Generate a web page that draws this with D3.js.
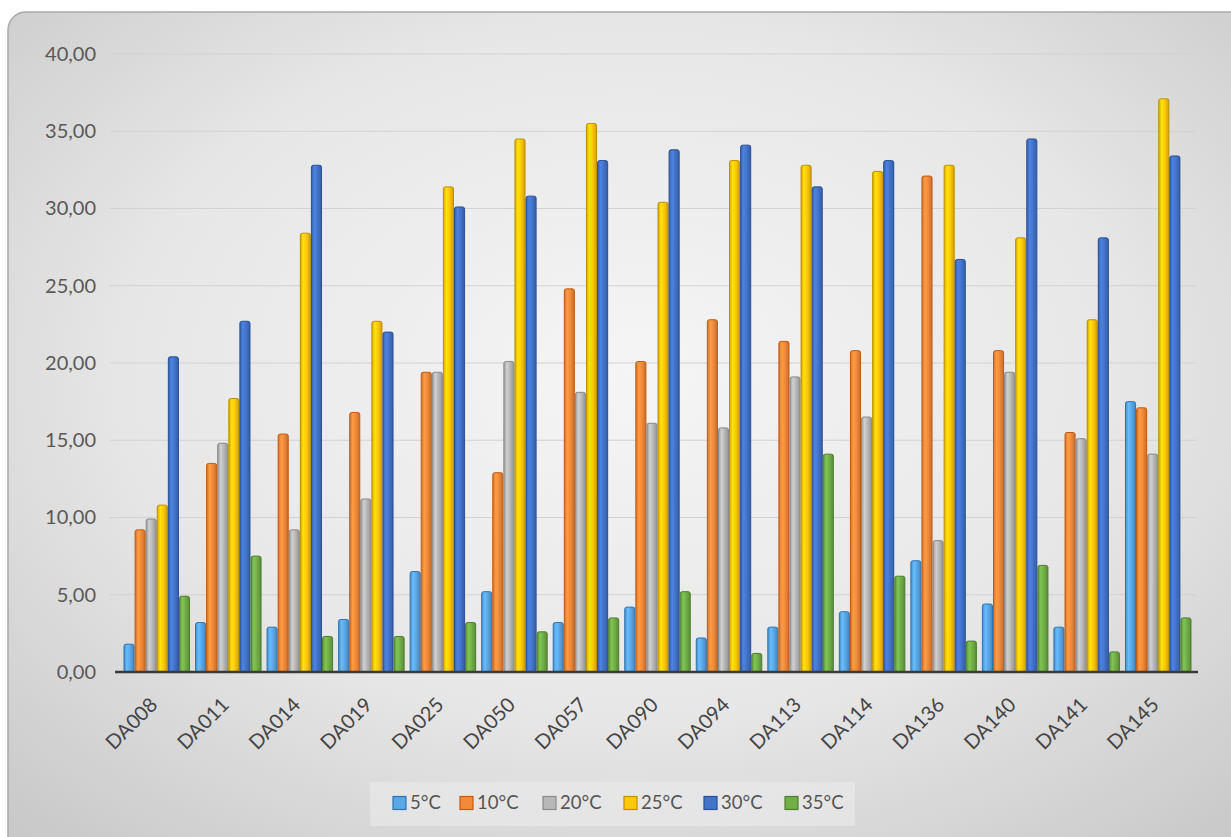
<!DOCTYPE html>
<html>
<head>
<meta charset="utf-8">
<script src="https://cdn.jsdelivr.net/npm/d3@7"></script>
<style>
  html, body { margin: 0; padding: 0; background: #ffffff; }
  svg { display: block; }
  text { font-family: Lato, "Open Sans", "Liberation Sans", sans-serif; }
</style>
</head>
<body>
<svg id="chart" width="1231" height="837"></svg>
<script>
// Strains and temperature series
const categories = ["DA008","DA011","DA014","DA019","DA025","DA050","DA057","DA090","DA094","DA113","DA114","DA136","DA140","DA141","DA145"];
const seriesNames = ["5°C","10°C","20°C","25°C","30°C","35°C"];

const t5  = [1.8, 3.2, 2.9, 3.4, 6.5, 5.2, 3.2, 4.2, 2.2, 2.9, 3.9, 7.2, 4.4, 2.9, 17.5];
const t10 = [9.2, 13.5, 15.4, 16.8, 19.4, 12.9, 24.8, 20.1, 22.8, 21.4, 20.8, 32.1, 20.8, 15.5, 17.1];
const t20 = [9.9, 14.8, 9.2, 11.2, 19.4, 20.1, 18.1, 16.1, 15.8, 19.1, 16.5, 8.5, 19.4, 15.1, 14.1];
const t25 = [10.8, 17.7, 28.4, 22.7, 31.4, 34.5, 35.5, 30.4, 33.1, 32.8, 32.4, 32.8, 28.1, 22.8, 37.1];
const t30 = [20.4, 22.7, 32.8, 22.0, 30.1, 30.8, 33.1, 33.8, 34.1, 31.4, 33.1, 26.7, 34.5, 28.1, 33.4];
const t35 = [4.9, 7.5, 2.3, 2.3, 3.2, 2.6, 3.5, 5.2, 1.2, 14.1, 6.2, 2.0, 6.9, 1.3, 3.5];

const yTicks = [0, 5, 10, 15, 20, 25, 30, 35, 40];

const seriesValues = [t5, t10, t20, t25, t30, t35];
const fills   = ["#5aa7e6", "#f28a3a", "#b8b8b8", "#ffc80a", "#4374c9", "#71ae48"];
const strokes = ["#2e75b6", "#c55a11", "#8a8a8a", "#bf9000", "#2a4f95", "#4f7d2f"];

const svg = d3.select("#chart");
const defs = svg.append("defs");

// Panel background: soft radial shading
const bg = defs.append("radialGradient").attr("id", "bgGrad")
  .attr("cx", "50%").attr("cy", "42%").attr("r", "72%");
bg.append("stop").attr("offset", "0%").attr("stop-color", "#f5f5f5");
bg.append("stop").attr("offset", "55%").attr("stop-color", "#e7e7e7");
bg.append("stop").attr("offset", "100%").attr("stop-color", "#c9c9c9");

svg.append("rect")
  .attr("x", 8).attr("y", 12)
  .attr("width", 1240).attr("height", 860)
  .attr("rx", 18).attr("ry", 18)
  .attr("fill", "url(#bgGrad)")
  .attr("stroke", "#a9a9a9").attr("stroke-width", 1.5);

// Cylinder-like shading for each series
seriesNames.forEach((s, i) => {
  const base = d3.color(fills[i]);
  const g = defs.append("linearGradient").attr("id", "bar" + i)
    .attr("x1", "0%").attr("x2", "100%").attr("y1", "0%").attr("y2", "0%");
  g.append("stop").attr("offset", "0%").attr("stop-color", base.darker(0.5));
  g.append("stop").attr("offset", "30%").attr("stop-color", base.brighter(0.35));
  g.append("stop").attr("offset", "60%").attr("stop-color", base);
  g.append("stop").attr("offset", "100%").attr("stop-color", base.darker(0.6));
});

const x0 = d3.scaleBand().domain(categories).range([121, 1194])
  .paddingInner(0.07).paddingOuter(0.035);
const x1 = d3.scaleBand().domain(d3.range(seriesNames.length))
  .range([0, x0.bandwidth()]).padding(0);
const y = d3.scaleLinear().domain([0, 40]).range([672, 54]);

const fmt = v => d3.format(".2f")(v).replace(".", ",");

// Gridlines
svg.append("g").selectAll("line").data(yTicks.filter(d => d > 0)).join("line")
  .attr("x1", 110).attr("x2", 1196)
  .attr("y1", d => y(d)).attr("y2", d => y(d))
  .attr("stroke", "#d2d2d2").attr("stroke-width", 1.2);

// Y axis labels
const yAxis = d3.axisLeft(y).tickValues(yTicks).tickFormat(fmt).tickSize(0).tickPadding(0);
const gy = svg.append("g").attr("transform", "translate(96,0)").call(yAxis);
gy.select(".domain").remove();
gy.selectAll("text")
  .attr("font-family", "Lato, 'Open Sans', sans-serif")
  .attr("font-size", 20).attr("fill", "#595959");

// Bars
const groups = svg.append("g").selectAll("g").data(categories).join("g")
  .attr("transform", d => `translate(${x0(d)},0)`);

groups.selectAll("rect")
  .data((c, ci) => seriesValues.map((vals, si) => ({ si, v: vals[ci] })))
  .join("rect")
  .attr("x", d => x1(d.si) + 0.5)
  .attr("y", d => y(d.v))
  .attr("width", x1.bandwidth() - 1)
  .attr("height", d => y(0) - y(d.v))
  .attr("rx", 2)
  .attr("fill", d => `url(#bar${d.si})`)
  .attr("stroke", d => strokes[d.si])
  .attr("stroke-width", 1);

// X axis line and labels
const xAxis = d3.axisBottom(x0).tickSize(0).tickPadding(0);
const gx = svg.append("g").attr("transform", `translate(0,${y(0)})`).call(xAxis);
gx.select(".domain")
  .attr("d", `M115,0H1198`)
  .attr("stroke", "#3a3a3a").attr("stroke-width", 2.5);
gx.selectAll(".tick text")
  .attr("font-family", "Lato, 'Open Sans', sans-serif")
  .attr("font-size", 20).attr("fill", "#454545")
  .attr("text-anchor", "end")
  .attr("dy", 0).attr("y", 0)
  .attr("transform", "translate(2,34) rotate(-45)");

// Legend
const legend = svg.append("g");
legend.append("rect")
  .attr("x", 370).attr("y", 782).attr("width", 485).attr("height", 44)
  .attr("fill", "#ebebeb").attr("opacity", 0.6);

const legX = [393, 460, 543, 624, 704, 785];
const items = legend.selectAll("g").data(seriesNames).join("g")
  .attr("transform", (d, i) => `translate(${legX[i]},803)`);
items.append("rect")
  .attr("x", 0).attr("y", -6.5).attr("width", 13).attr("height", 13)
  .attr("fill", (d, i) => fills[i])
  .attr("stroke", (d, i) => strokes[i]).attr("stroke-width", 1.2);
items.append("text")
  .attr("x", 17).attr("y", 0).attr("dy", "0.35em")
  .attr("font-size", 18.5).attr("fill", "#555555")
  .text(d => d);
</script>
</body>
</html>
